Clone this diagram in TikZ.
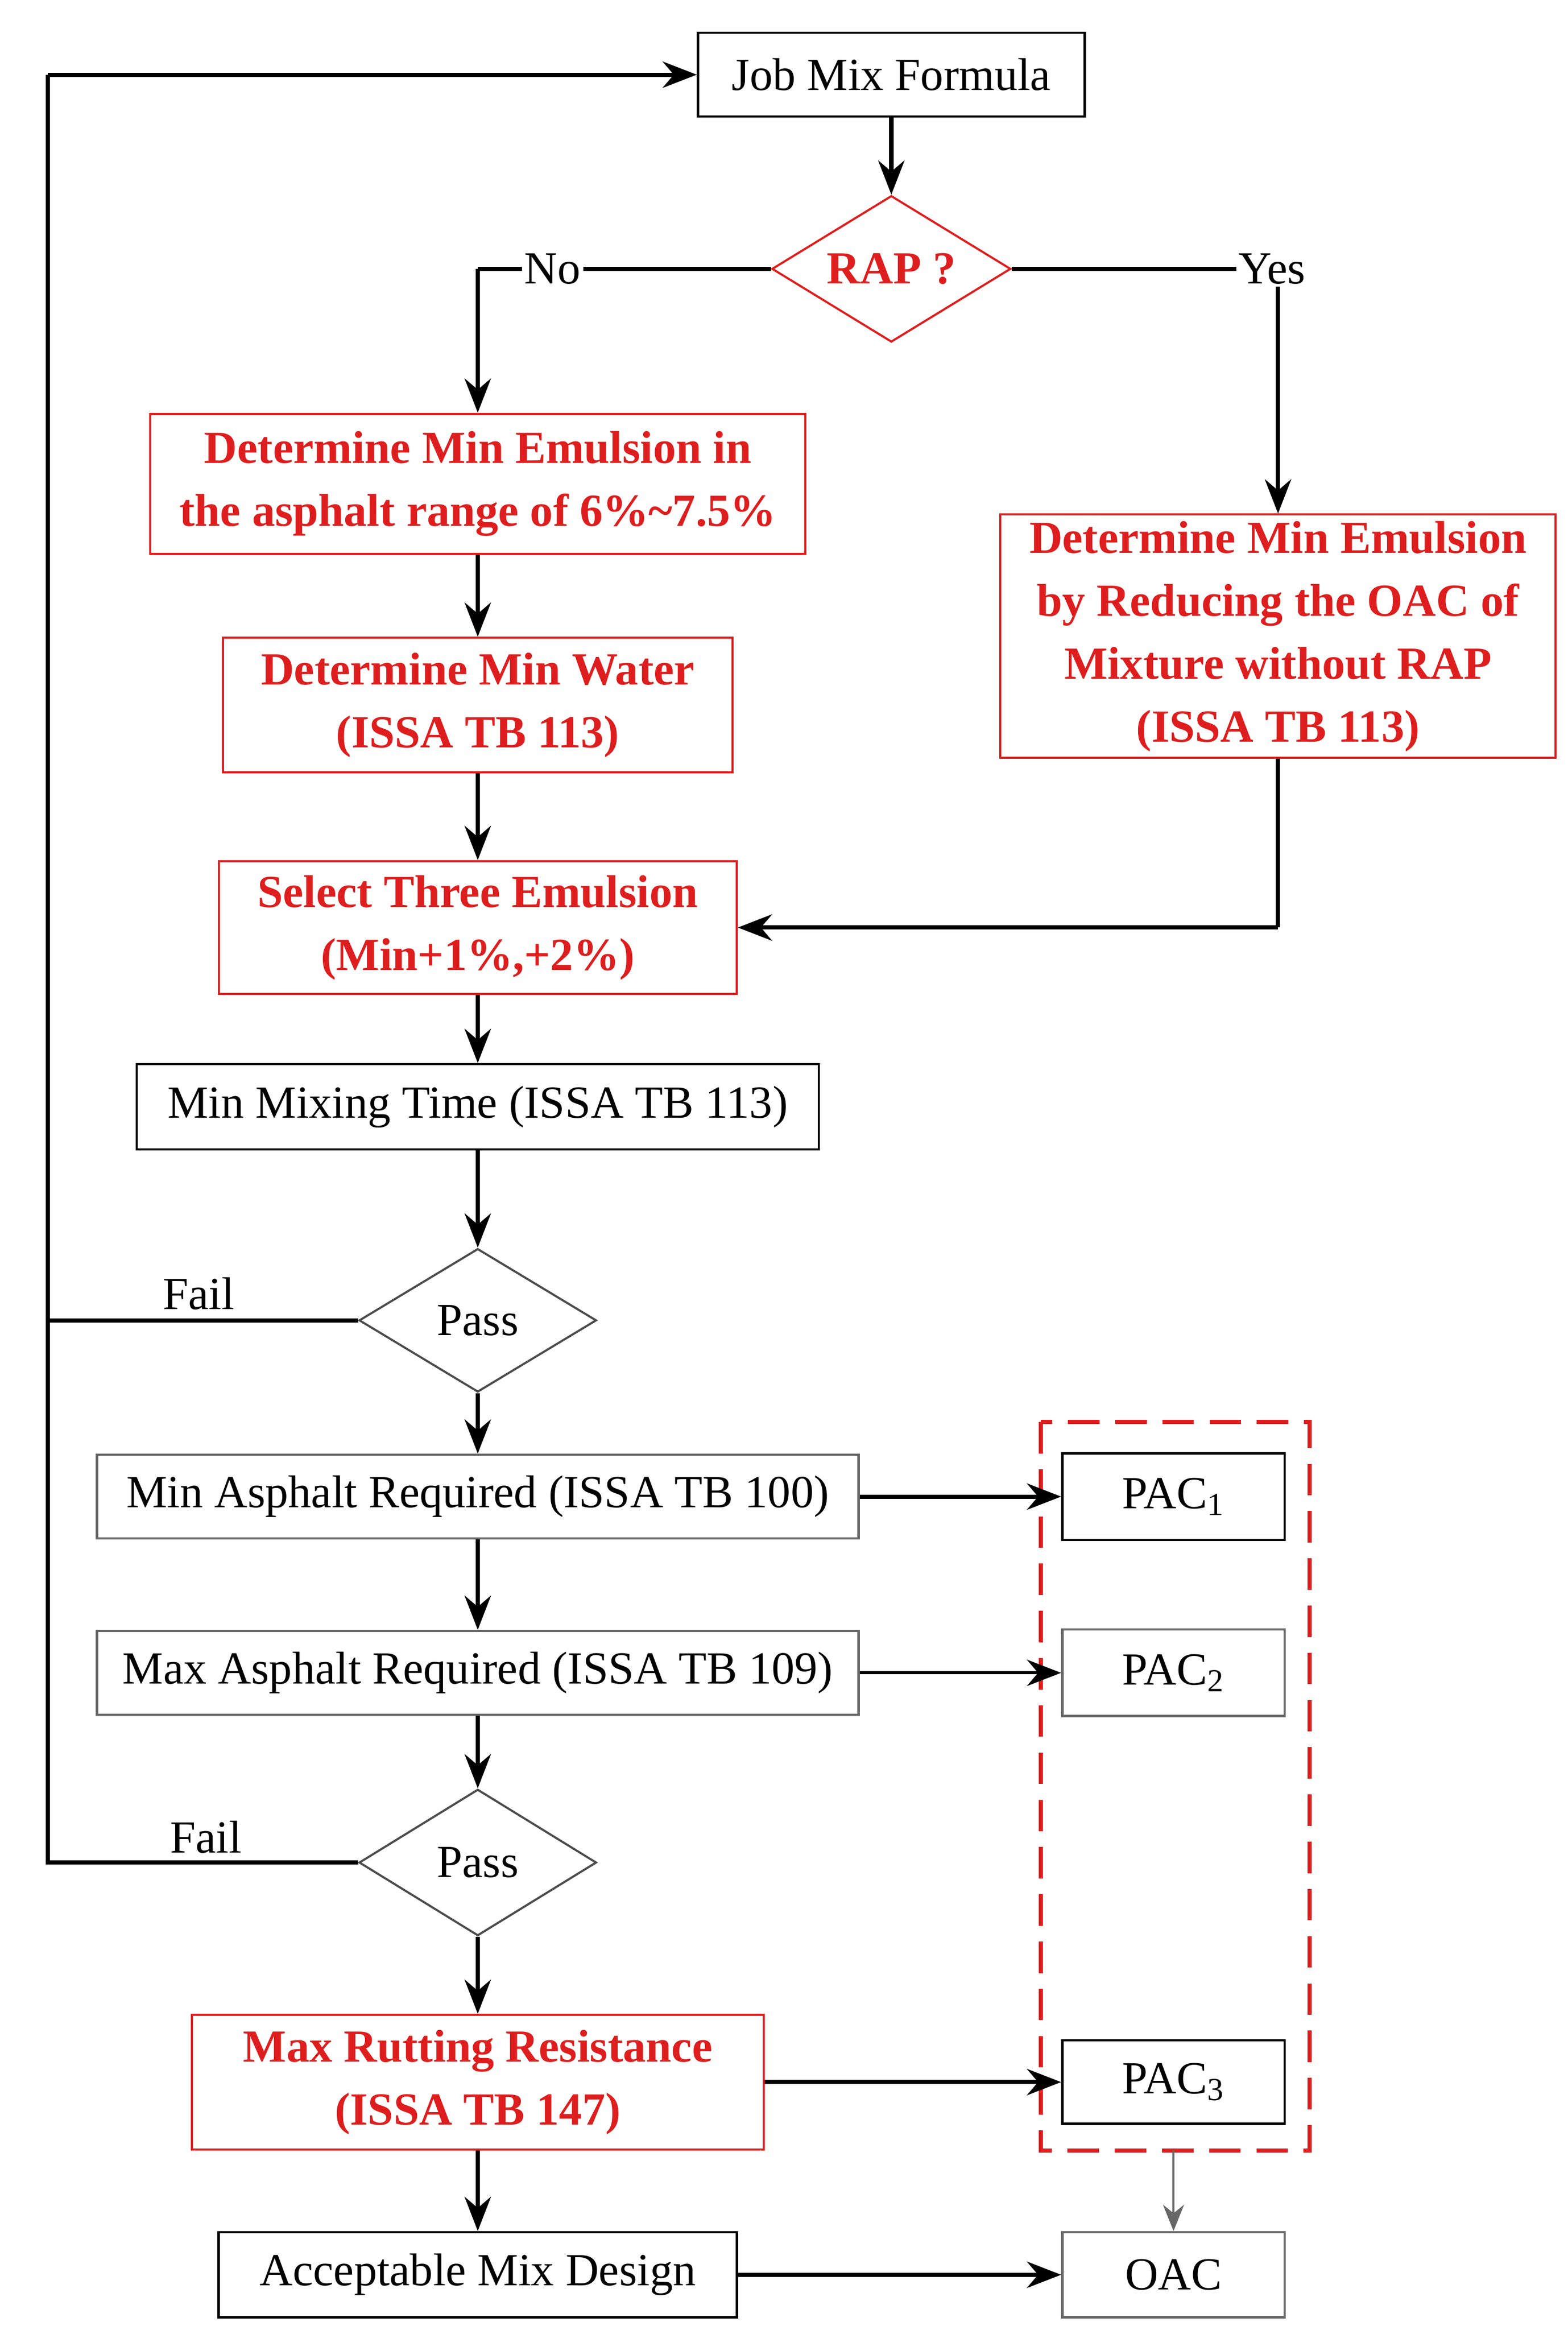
\documentclass[tikz,border=0pt]{standalone}
\usepackage{fontspec}
\setmainfont{Liberation Serif}
\usetikzlibrary{shapes.geometric,arrows.meta}
\definecolor{rd}{RGB}{222,30,30}
\begin{document}
\begin{tikzpicture}[x=0.02cm,y=-0.02cm,
  every node/.style={font=\fontsize{17.5}{21}\selectfont, inner sep=0pt, align=center},
  bbox/.style={draw=black, line width=0.9pt, rectangle},
  gbox/.style={draw=black!60, line width=0.9pt, rectangle},
  rbox/.style={draw=rd, line width=0.8pt, rectangle, text=rd, font=\fontsize{17.5}{24}\selectfont\bfseries},
  dia/.style={draw=black!70, line width=0.8pt, diamond, aspect=1.65},
  arr/.style={line width=1.6pt, -{Stealth[length=13pt,width=10pt]}},
  ln/.style={line width=1.6pt}]
\useasboundingbox (0,0) rectangle (1050,1560);
\node[bbox, minimum width=259*0.02cm, minimum height=56*0.02cm] (jmf) at (597,50) {Job Mix Formula};
\node[draw=rd, line width=0.8pt, diamond, minimum width=160*0.02cm, minimum height=98*0.02cm, aspect=1.63, text=rd, font=\fontsize{17.5}{21}\selectfont\bfseries] (rap) at (597,180) {RAP ?};
\node[rbox, minimum width=439*0.02cm, minimum height=94*0.02cm] (r1) at (320,324) {Determine Min Emulsion in\\the asphalt range of 6\%\textasciitilde7.5\%};
\node[rbox, minimum width=341*0.02cm, minimum height=90*0.02cm] (r2) at (320,472) {Determine Min Water\\(ISSA TB 113)};
\node[rbox, minimum width=372*0.02cm, minimum height=163*0.02cm] (rr) at (856,426) {Determine Min Emulsion\\by Reducing the OAC of\\Mixture without RAP\\(ISSA TB 113)};
\node[rbox, minimum width=347*0.02cm, minimum height=89*0.02cm] (r3) at (320,621) {Select Three Emulsion\\(Min+1\%,+2\%)};
\node[bbox, minimum width=457*0.02cm, minimum height=57*0.02cm] (mix) at (320,741) {Min Mixing Time (ISSA TB 113)};
\node[dia, minimum width=159*0.02cm, minimum height=96*0.02cm] (p1) at (320,884) {Pass};
\node[gbox, minimum width=510*0.02cm, minimum height=56*0.02cm] (mina) at (320,1002) {Min Asphalt Required (ISSA TB 100)};
\node[gbox, minimum width=510*0.02cm, minimum height=56*0.02cm] (maxa) at (320,1120) {Max Asphalt Required (ISSA TB 109)};
\node[dia, minimum width=159*0.02cm, minimum height=98*0.02cm] (p2) at (320,1247) {Pass};
\node[rbox, minimum width=383*0.02cm, minimum height=90*0.02cm] (rut) at (320,1394) {Max Rutting Resistance\\(ISSA TB 147)};
\node[bbox, minimum width=347*0.02cm, minimum height=57*0.02cm] (acc) at (320,1523) {Acceptable Mix Design};
\node[bbox, minimum width=149*0.02cm, minimum height=58*0.02cm] (pac1) at (786,1002) {PAC\textsubscript{1}};
\node[gbox, minimum width=149*0.02cm, minimum height=58*0.02cm] (pac2) at (786,1120) {PAC\textsubscript{2}};
\node[bbox, minimum width=149*0.02cm, minimum height=56*0.02cm] (pac3) at (786,1394) {PAC\textsubscript{3}};
\node[gbox, minimum width=149*0.02cm, minimum height=57*0.02cm] (oac) at (786,1523) {OAC};
\draw[rd, line width=1.6pt, dash pattern=on 12pt off 6pt] (697,952) rectangle (877,1440);
\coordinate (dbot) at (786,1440);
\coordinate (cn) at (320,180);
\coordinate (cy) at (856,180);
\coordinate (cr) at (856,621);
\coordinate (f1) at (32,884);
\coordinate (f2) at (32,1247);
\coordinate (top) at (32,50);
\draw[arr] (jmf) -- (rap);
\draw[ln] (rap.west) -- (cn);
\draw[arr] (cn) -- (r1.north);
\draw[ln] (rap.east) -- (cy);
\draw[arr] (cy) -- (rr.north);
\node[fill=white, inner sep=1pt] at (370,180) {No};
\node[fill=white, inner sep=1pt] at (852,180) {Yes};
\draw[arr] (r1) -- (r2);
\draw[arr] (r2) -- (r3);
\draw[ln] (rr.south) -- (cr);
\draw[arr] (cr) -- (r3.east);
\draw[arr] (r3) -- (mix);
\draw[arr] (mix) -- (p1);
\draw[arr] (p1) -- (mina);
\draw[arr] (mina) -- (maxa);
\draw[arr] (maxa) -- (p2);
\draw[arr] (p2) -- (rut);
\draw[arr] (rut) -- (acc);
\draw[ln] (p1.west) -- (f1);
\draw[ln] (p2.west) -- (f2) -- (top);
\draw[arr] (top) -- (jmf.west);
\node at (133,866) {Fail};
\node at (138,1230) {Fail};
\draw[arr] (mina) -- (pac1);
\draw[arr, line width=1.2pt] (maxa) -- (pac2);
\draw[arr] (rut.east) -- (pac3);
\draw[arr] (acc) -- (oac);
\draw[black!60, line width=0.8pt, -{Stealth[length=10pt,width=8pt]}] (dbot) -- (oac.north);
\end{tikzpicture}
\end{document}
